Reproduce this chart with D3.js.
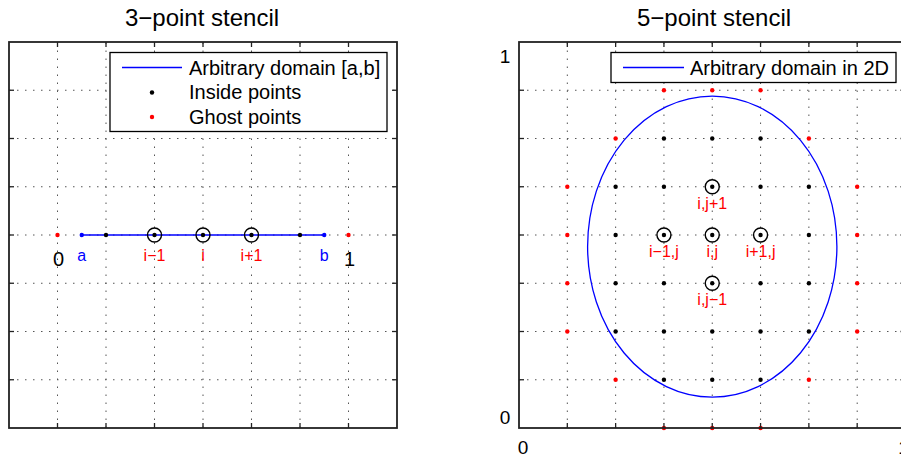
<!DOCTYPE html>
<html>
<head>
<meta charset="utf-8">
<script src="https://cdn.jsdelivr.net/npm/d3@7"></script>
<style>
  html, body { margin: 0; padding: 0; background: #fff; }
  svg { display: block; font-family: "Liberation Sans", Arial, Helvetica, sans-serif; }
</style>
</head>
<body>
<svg id="fig" width="901" height="459"></svg>
<script>
// ---------- 1D stencil data (x in [0,1], line at y = 0) ----------
const ghost1D = [0, 1];
const inside1D = [1/6, 2/6, 3/6, 4/6, 5/6];
const stencil1D = [2/6, 3/6, 4/6];
const domain1D = [1/12, 11/12];
const stencil1DLabels = ["i\u22121", "i", "i+1"];
const domain1DLabels = ["a", "b"];
const ghost1DLabels = ["0", "1"];
const xTicks1D = [0, 1/6, 2/6, 3/6, 4/6, 5/6, 1];
const yTicks1D = [-0.75, -0.5, -0.25, 0, 0.25, 0.5, 0.75];

// ---------- 2D stencil data (unit square) ----------
const ghost2D = [
  [0.375, 0.875], [0.5, 0.875], [0.625, 0.875],
  [0.25, 0.75], [0.75, 0.75],
  [0.125, 0.625], [0.875, 0.625],
  [0.125, 0.5], [0.875, 0.5],
  [0.125, 0.375], [0.875, 0.375],
  [0.125, 0.25], [0.875, 0.25],
  [0.25, 0.125], [0.75, 0.125],
  [0.375, 0], [0.5, 0], [0.625, 0]
];
const inside2D = [
  [0.375, 0.75], [0.5, 0.75], [0.625, 0.75],
  [0.25, 0.625], [0.375, 0.625], [0.5, 0.625], [0.625, 0.625], [0.75, 0.625],
  [0.25, 0.5], [0.375, 0.5], [0.5, 0.5], [0.625, 0.5], [0.75, 0.5],
  [0.25, 0.375], [0.375, 0.375], [0.5, 0.375], [0.625, 0.375], [0.75, 0.375],
  [0.25, 0.25], [0.375, 0.25], [0.5, 0.25], [0.625, 0.25], [0.75, 0.25],
  [0.375, 0.125], [0.5, 0.125], [0.625, 0.125]
];
const stencil2D = [[0.5, 0.625], [0.375, 0.5], [0.5, 0.5], [0.625, 0.5], [0.5, 0.375]];
const stencil2DLabels = ["i,j+1", "i\u22121,j", "i,j", "i+1,j", "i,j\u22121"];
const domain2D = { cx: 0.5, cy: 0.47, rx: 0.3225, ry: 0.39 };
const ticks2D = [0.125, 0.25, 0.375, 0.5, 0.625, 0.75, 0.875];
const tickLabels2D = ["0", "1"];

const titles = ["3\u2212point stencil", "5\u2212point stencil"];
const legend1D = ["Arbitrary domain [a,b]", "Inside points", "Ghost points"];
const legend2D = ["Arbitrary domain in 2D"];

// ---------- styling ----------
const RED = "#ff0000", BLUE = "#0000ff", INK = "#000";
const DOT_R = 2.2, RING_R = 7;

const svg = d3.select("#fig");

function drawGrid(g, x, y, xt, yt) {
  const [x0, x1] = x.range(), [y0, y1] = y.range();
  g.selectAll(".gx").data(xt).join("line")
    .attr("x1", d => x(d)).attr("x2", d => x(d)).attr("y1", y0).attr("y2", y1)
    .attr("stroke", "#555").attr("stroke-width", 1).attr("stroke-dasharray", "1.5 6.5");
  g.selectAll(".gy").data(yt).join("line")
    .attr("y1", d => y(d)).attr("y2", d => y(d)).attr("x1", x0).attr("x2", x1)
    .attr("stroke", "#555").attr("stroke-width", 1).attr("stroke-dasharray", "1.5 6.5");
}

function drawBox(g, x, y, xt, yt) {
  const [x0, x1] = x.range(), [y0, y1] = y.range();
  const tl = 5;
  // inward ticks on all four sides
  xt.forEach(d => {
    g.append("line").attr("x1", x(d)).attr("x2", x(d)).attr("y1", y0).attr("y2", y0 - tl)
      .attr("stroke", "#222").attr("stroke-width", 1.3);
    g.append("line").attr("x1", x(d)).attr("x2", x(d)).attr("y1", y1).attr("y2", y1 + tl)
      .attr("stroke", "#222").attr("stroke-width", 1.3);
  });
  yt.forEach(d => {
    g.append("line").attr("y1", y(d)).attr("y2", y(d)).attr("x1", x0).attr("x2", x0 + tl)
      .attr("stroke", "#222").attr("stroke-width", 1.3);
    g.append("line").attr("y1", y(d)).attr("y2", y(d)).attr("x1", x1).attr("x2", x1 - tl)
      .attr("stroke", "#222").attr("stroke-width", 1.3);
  });
  g.append("rect").attr("x", x0).attr("y", y1).attr("width", x1 - x0).attr("height", y0 - y1)
    .attr("fill", "none").attr("stroke", "#222").attr("stroke-width", 1.8);
}

// ================= Left panel: 1D =================
{
  const x = d3.scaleLinear().domain([-1/6, 7/6]).range([9, 397]);
  const y = d3.scaleLinear().domain([-1, 1]).range([428, 42]);
  const g = svg.append("g");

  drawGrid(g, x, y, xTicks1D, yTicks1D);

  g.append("line")
    .attr("x1", x(domain1D[0])).attr("x2", x(domain1D[1]))
    .attr("y1", y(0)).attr("y2", y(0))
    .attr("stroke", BLUE).attr("stroke-width", 1.3);

  g.selectAll(".dom").data(domain1D).join("circle")
    .attr("cx", d => x(d)).attr("cy", y(0)).attr("r", DOT_R).attr("fill", BLUE);
  g.selectAll(".ins").data(inside1D).join("circle")
    .attr("cx", d => x(d)).attr("cy", y(0)).attr("r", DOT_R).attr("fill", INK);
  g.selectAll(".gh").data(ghost1D).join("circle")
    .attr("cx", d => x(d)).attr("cy", y(0)).attr("r", DOT_R).attr("fill", RED);
  g.selectAll(".ring").data(stencil1D).join("circle")
    .attr("cx", d => x(d)).attr("cy", y(0)).attr("r", RING_R)
    .attr("fill", "none").attr("stroke", INK).attr("stroke-width", 1.4);

  g.selectAll(".sl").data(stencil1D).join("text")
    .attr("x", d => x(d)).attr("y", y(0) + 25.5)
    .attr("text-anchor", "middle").attr("font-size", 16).attr("fill", RED)
    .text((d, i) => stencil1DLabels[i]);
  g.selectAll(".dl").data(domain1D).join("text")
    .attr("x", d => x(d)).attr("y", y(0) + 25.5)
    .attr("text-anchor", "middle").attr("font-size", 16).attr("fill", BLUE)
    .text((d, i) => domain1DLabels[i]);
  g.selectAll(".gl").data(ghost1D).join("text")
    .attr("x", d => x(d) + 1).attr("y", y(0) + 30.5)
    .attr("text-anchor", "middle").attr("font-size", 20).attr("fill", INK)
    .text((d, i) => ghost1DLabels[i]);

  drawBox(g, x, y, xTicks1D, yTicks1D);

  // legend
  const lg = g.append("g");
  lg.append("rect").attr("x", 110).attr("y", 52.5).attr("width", 277).attr("height", 79)
    .attr("fill", "#fff").attr("stroke", INK).attr("stroke-width", 1.3);
  lg.append("line").attr("x1", 122).attr("x2", 182).attr("y1", 67.5).attr("y2", 67.5)
    .attr("stroke", BLUE).attr("stroke-width", 1.3);
  lg.append("circle").attr("cx", 152).attr("cy", 92.5).attr("r", DOT_R).attr("fill", INK);
  lg.append("circle").attr("cx", 152).attr("cy", 117).attr("r", DOT_R).attr("fill", RED);
  const rows = [74.5, 99, 123.5];
  legend1D.forEach((t, i) => {
    lg.append("text").attr("x", 189).attr("y", rows[i]).attr("font-size", 20)
      .attr("fill", INK).text(t);
  });

  svg.append("text").attr("x", 202).attr("y", 26).attr("text-anchor", "middle")
    .attr("font-size", 24).attr("fill", INK).text(titles[0]);
}

// ================= Right panel: 2D =================
{
  const x = d3.scaleLinear().domain([0, 1]).range([519, 905.5]);
  const y = d3.scaleLinear().domain([0, 1]).range([428, 42]);
  const g = svg.append("g");

  drawGrid(g, x, y, ticks2D, ticks2D);

  g.append("ellipse")
    .attr("cx", x(domain2D.cx)).attr("cy", y(domain2D.cy))
    .attr("rx", x(domain2D.rx) - x(0)).attr("ry", y(0) - y(domain2D.ry))
    .attr("fill", "none").attr("stroke", BLUE).attr("stroke-width", 1.3);

  g.selectAll(".ins").data(inside2D).join("circle")
    .attr("cx", d => x(d[0])).attr("cy", d => y(d[1])).attr("r", DOT_R).attr("fill", INK);
  g.selectAll(".gh").data(ghost2D).join("circle")
    .attr("cx", d => x(d[0])).attr("cy", d => y(d[1])).attr("r", DOT_R).attr("fill", RED);
  g.selectAll(".ring").data(stencil2D).join("circle")
    .attr("cx", d => x(d[0])).attr("cy", d => y(d[1])).attr("r", RING_R)
    .attr("fill", "none").attr("stroke", INK).attr("stroke-width", 1.4);
  g.selectAll(".sl").data(stencil2D).join("text")
    .attr("x", d => x(d[0])).attr("y", d => y(d[1]) + 22)
    .attr("text-anchor", "middle").attr("font-size", 16).attr("fill", RED)
    .text((d, i) => stencil2DLabels[i]);

  drawBox(g, x, y, ticks2D, ticks2D);

  // tick labels at 0 and 1
  g.append("text").attr("x", 505).attr("y", y(0) - 4).attr("text-anchor", "middle")
    .attr("font-size", 19).attr("fill", INK).text(tickLabels2D[0]);
  g.append("text").attr("x", 505).attr("y", y(1) + 21).attr("text-anchor", "middle")
    .attr("font-size", 19).attr("fill", INK).text(tickLabels2D[1]);
  g.append("text").attr("x", x(0) + 4).attr("y", y(0) + 26).attr("text-anchor", "middle")
    .attr("font-size", 19).attr("fill", INK).text(tickLabels2D[0]);
  g.append("text").attr("x", x(1) - 2).attr("y", y(0) + 26).attr("text-anchor", "middle")
    .attr("font-size", 19).attr("fill", INK).text(tickLabels2D[1]);

  // legend
  const lg = g.append("g");
  lg.append("rect").attr("x", 611).attr("y", 52.5).attr("width", 285).attr("height", 30)
    .attr("fill", "#fff").attr("stroke", INK).attr("stroke-width", 1.3);
  lg.append("line").attr("x1", 623).attr("x2", 684).attr("y1", 67.5).attr("y2", 67.5)
    .attr("stroke", BLUE).attr("stroke-width", 1.3);
  lg.append("text").attr("x", 690).attr("y", 75).attr("font-size", 20)
    .attr("fill", INK).text(legend2D[0]);

  svg.append("text").attr("x", 714).attr("y", 26).attr("text-anchor", "middle")
    .attr("font-size", 24).attr("fill", INK).text(titles[1]);
}
</script>
</body>
</html>
